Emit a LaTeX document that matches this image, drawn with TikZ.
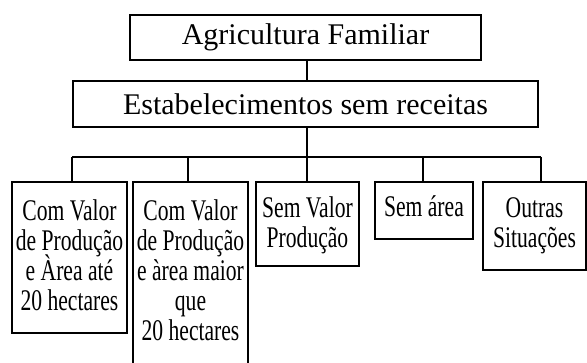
\documentclass[tikz,border=0pt]{standalone}
\usepackage{fontspec}
\setmainfont{Liberation Serif}
\newfontfamily\condfont{Liberation Serif}[FakeStretch=0.72]
\newcommand\mytightls{\lineskiplimit=-30pt\relax}
\begin{document}
\begin{tikzpicture}[x=1pt,y=-1pt,
  bigbox/.style={draw,line width=2.6pt,inner sep=0pt,align=center,
    font=\fontsize{30}{30}\selectfont},
  kidbox/.style={draw,line width=2.6pt,inner sep=0pt},
  kidtext/.style={inner sep=0pt,align=center,anchor=base,
    font=\condfont\fontsize{30}{30}\selectfont\mytightls},
  link/.style={line width=1.6pt}]
\useasboundingbox (0,0) rectangle (587,363);
\node[bigbox,minimum width=351pt,minimum height=45pt] (top) at (305.5,37.5) {Agricultura Familiar};
\node[bigbox,minimum width=465pt,minimum height=46pt] (est) at (305.5,104) {Estabelecimentos sem receitas};
\node[kidbox,minimum width=115pt,minimum height=151pt] (c1) at (69.5,257.5) {};
\node[kidbox,minimum width=115pt,minimum height=188pt] (c2) at (190.5,276) {};
\node[kidbox,minimum width=103pt,minimum height=84pt] (c3) at (307.5,224) {};
\node[kidbox,minimum width=98pt,minimum height=57pt] (c4) at (424,210.5) {};
\node[kidbox,minimum width=103pt,minimum height=88pt] (c5) at (534.5,226) {};
\node[kidtext] (l1) at (69.5,311) {Com Valor\\de Produção\\e Àrea até\\20 hectares};
\node[kidtext] (l2) at (190.5,341) {Com Valor\\de Produção\\e àrea maior\\que\\20 hectares};
\node[kidtext] (l3) at (307.5,248) {Sem Valor\\Produção};
\node[kidtext] (l4) at (424,217) {Sem área};
\node[kidtext] (l5) at (534.5,248) {Outras\\Situações};
\coordinate (bus) at (307,157);
\coordinate (busL) at (72,157);
\coordinate (busR) at (541,157);
\coordinate (t1) at ([xshift=2.5pt]c1.north);
\coordinate (t2) at ([xshift=-2.5pt]c2.north);
\coordinate (t4) at ([xshift=-1pt]c4.north);
\coordinate (t5) at ([xshift=6.5pt]c5.north);
\draw[link] (top.south -| bus) -- (est.north -| bus);
\draw[link] (est.south -| bus) -- (bus);
\draw[link] (busL) -- (busR);
\draw[link] (busL) -- (t1);
\draw[link] (bus -| t2) -- (t2);
\draw[link] (bus) -- (c3.north -| bus);
\draw[link] (bus -| t4) -- (t4);
\draw[link] (busR) -- (t5);
\end{tikzpicture}
\end{document}
